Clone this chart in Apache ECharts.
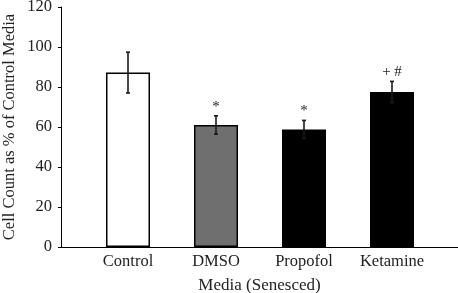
<!DOCTYPE html>
<html><head><meta charset="utf-8">
<script src="https://cdn.jsdelivr.net/npm/echarts@6/dist/echarts.min.js"></script>
<style>html,body{margin:0;padding:0;background:#fff}#c{width:458px;height:293px}</style>
</head><body><div id="c"></div>
<script>
const categories = ['Control', 'DMSO', 'Propofol', 'Ketamine'];
const means = [87.2, 61.0, 58.8, 77.5];
const errors = [10.2, 4.6, 4.5, 5.3];
const marks = ['', '*', '*', '+ #'];
const yTicks = [0, 20, 40, 60, 80, 100, 120];

const fills = ['#ffffff', '#6f6f6f', '#000000', '#000000'];
const font = '"Liberation Serif", "Times New Roman", serif';

const chart = echarts.init(document.getElementById('c'));
chart.setOption({
  animation: false,
  backgroundColor: '#fff',
  textStyle: { fontFamily: font },
  grid: [
    { left: 61, right: 0, top: 7, bottom: 46, containLabel: false, outerBoundsMode: 'none' },
    { left: 84, right: 22, top: 7, bottom: 46, containLabel: false, outerBoundsMode: 'none' }
  ],
  xAxis: [
    { type: 'value', gridIndex: 0, min: 0, max: 1,
      axisLine: { show: true, lineStyle: { color: '#000', width: 1 } },
      axisTick: { show: false }, axisLabel: { show: false }, splitLine: { show: false },
      name: 'Media (Senesced)', nameLocation: 'middle', nameGap: 30, nameMoveOverlap: false,
      nameTextStyle: { fontFamily: font, fontSize: 17, color: '#222' } },
    { type: 'category', gridIndex: 1, data: categories,
      axisLine: { show: false }, axisTick: { show: false },
      axisLabel: { fontFamily: font, fontSize: 16.5, color: '#222', margin: 6 } }
  ],
  yAxis: [
    { type: 'value', gridIndex: 0, min: yTicks[0], max: yTicks[yTicks.length - 1], interval: 20,
      axisLine: { show: true, lineStyle: { color: '#000', width: 1 } },
      axisTick: { show: true, length: 3, lineStyle: { color: '#000' } },
      axisLabel: { fontFamily: font, fontSize: 16.5, color: '#222', margin: 9 },
      splitLine: { show: false },
      name: 'Cell Count as % of Control Media', nameLocation: 'middle', nameGap: 43, nameMoveOverlap: false,
      nameTextStyle: { fontFamily: font, fontSize: 16.5, color: '#222' } },
    { type: 'value', gridIndex: 1, min: 0, max: 120, show: false }
  ],
  series: [
    { type: 'bar', xAxisIndex: 1, yAxisIndex: 1, barWidth: '50%',
      data: means.map((v, i) => ({ value: v, itemStyle: { color: fills[i], borderColor: '#000', borderWidth: 1.5 } })) },
    { type: 'custom', xAxisIndex: 1, yAxisIndex: 1, z: 5,
      data: means.map((v, i) => [i, v - errors[i], v + errors[i]]),
      renderItem: function (params, api) {
        const lo = api.coord([api.value(0), api.value(1)]);
        const hi = api.coord([api.value(0), api.value(2)]);
        const x = lo[0];
        const cap = 2;
        const st = { stroke: '#1a1a1a', lineWidth: 1.6 };
        const children = [
          { type: 'line', shape: { x1: x, y1: lo[1], x2: x, y2: hi[1] }, style: st },
          { type: 'line', shape: { x1: x - cap, y1: hi[1], x2: x + cap, y2: hi[1] }, style: st },
          { type: 'line', shape: { x1: x - cap, y1: lo[1], x2: x + cap, y2: lo[1] }, style: st }
        ];
        const m = marks[params.dataIndex];
        if (m) {
          children.push({ type: 'text', style: { text: m, x: x, y: hi[1] - 9, align: 'center', verticalAlign: 'middle',
            font: '15px ' + font, fill: '#222' } });
        }
        return { type: 'group', children: children };
      } }
  ]
});
</script></body></html>
